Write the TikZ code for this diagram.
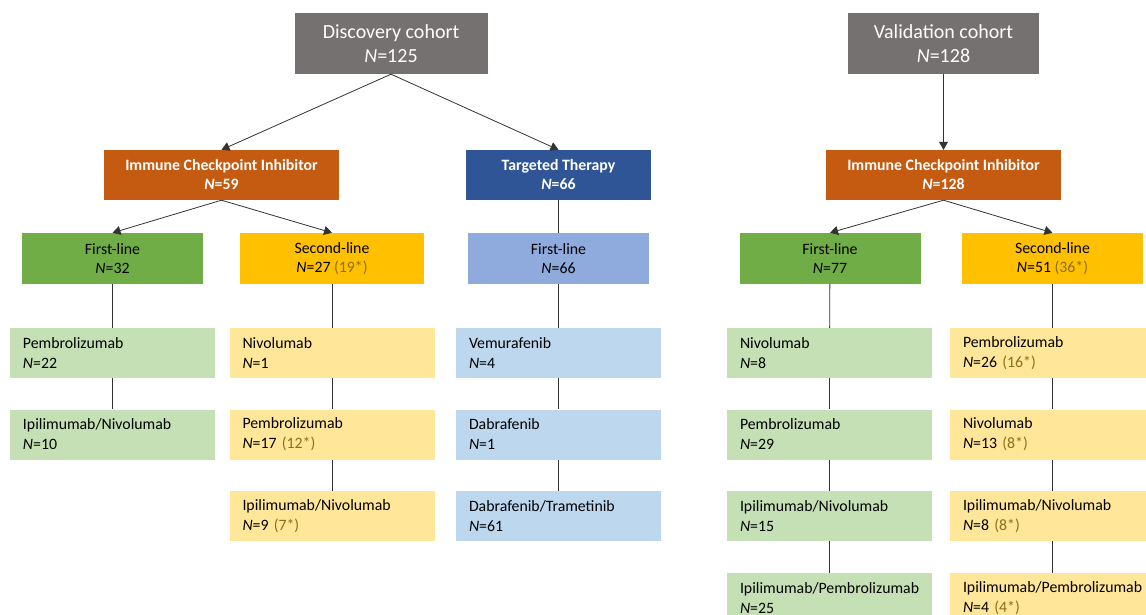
\documentclass[tikz,border=0pt]{standalone}
\usepackage{fontspec}
\setmainfont{Carlito}
\usetikzlibrary{arrows.meta}

\definecolor{cohortgray}{HTML}{757171}
\definecolor{iciorange}{HTML}{C55A11}
\definecolor{ttblue}{HTML}{2F5597}
\definecolor{firstgreen}{HTML}{70AD47}
\definecolor{secondgold}{HTML}{FFC000}
\definecolor{ttlight}{HTML}{8FAADC}
\definecolor{greenpale}{HTML}{C5E0B4}
\definecolor{goldpale}{HTML}{FFE699}
\definecolor{bluepale}{HTML}{BDD7EE}
\definecolor{starbrown}{HTML}{8F6E1A}

\newcommand{\nn}[1]{\textit{N}=#1}
\newcommand{\starred}[1]{{\color{starbrown}(#1*)}}

\begin{document}
\begin{tikzpicture}[x=1pt, y=-1pt,
  cohort/.style={fill=cohortgray, text=white, minimum width=193pt, minimum height=61pt,
    inner sep=0pt, align=center, font=\fontsize{20}{24}\selectfont},
  therapy/.style={fill=#1, text=white, minimum width=235pt, minimum height=50pt,
    inner sep=0pt, align=center, font=\fontsize{15.8}{19}\selectfont\bfseries},
  linebox/.style={fill=#1, minimum width=181pt, minimum height=51pt,
    inner sep=0pt, align=center, font=\fontsize{15.8}{19.5}\selectfont},
  drug/.style={fill=#1, text width=179pt, minimum height=50pt, inner xsep=13pt,
    inner ysep=0pt, align=left, font=\fontsize{15.8}{20}\selectfont},
  conn/.style={draw=black!80, line width=0.8pt},
  arr/.style={conn, -{Triangle[width=9pt, length=8pt]}}]

  \clip (0,0) rectangle (1146,615);

  % cohorts
  \node[cohort] (disc) at (391,43.5) {Discovery cohort\\\nn{125}};
  \node[cohort, minimum width=191pt] (valid) at (943.5,43.5) {Validation cohort\\\nn{128}};

  % treatment
  \node[therapy=iciorange] (iciA) at (221.5,175) {Immune Checkpoint Inhibitor\\\nn{59}};
  \node[therapy=ttblue, minimum width=185pt] (tt) at (558.5,175) {Targeted Therapy\\\nn{66}};
  \node[therapy=iciorange] (iciB) at (943.5,175) {Immune Checkpoint Inhibitor\\\nn{128}};

  % lines
  \node[linebox=firstgreen] (firstA) at (112.5,258.5) {First-line\\\nn{32}};
  \node[linebox=secondgold, minimum width=184pt] (secondA) at (332,258.5) {Second-line\\\nn{27} \starred{19}};
  \node[linebox=ttlight] (firstT) at (558.5,258.5) {First-line\\\nn{66}};
  \node[linebox=firstgreen] (firstB) at (830,258.5) {First-line\\\nn{77}};
  \node[linebox=secondgold] (secondB) at (1052.5,258.5) {Second-line\\\nn{51} \starred{36}};

  % drugs, discovery
  \node[drug=greenpale] (pembA) at (112.5,353) {Pembrolizumab\\\nn{22}};
  \node[drug=greenpale] (ipinivoA) at (112.5,434.5) {Ipilimumab/Nivolumab\\\nn{10}};
  \node[drug=goldpale] (nivoS) at (332,353) {Nivolumab\\\nn{1}};
  \node[drug=goldpale] (pembS) at (332,434.5) {Pembrolizumab\\\nn{17} \starred{12}};
  \node[drug=goldpale] (ipinivoS) at (332,516) {Ipilimumab/Nivolumab\\\nn{9} \starred{7}};
  \node[drug=bluepale] (vemu) at (558.5,353) {Vemurafenib\\\nn{4}};
  \node[drug=bluepale] (dabra) at (558.5,434.5) {Dabrafenib\\\nn{1}};
  \node[drug=bluepale] (dabtram) at (558.5,516) {Dabrafenib/Trametinib\\\nn{61}};

  % drugs, validation
  \node[drug=greenpale] (nivoB) at (829.5,353) {Nivolumab\\\nn{8}};
  \node[drug=greenpale] (pembB) at (829.5,434.5) {Pembrolizumab\\\nn{29}};
  \node[drug=greenpale] (ipinivoB) at (829.5,516) {Ipilimumab/Nivolumab\\\nn{15}};
  \node[drug=greenpale] (ipipembB) at (829.5,598) {Ipilimumab/Pembrolizumab\\\nn{25}};
  \node[drug=goldpale] (pembR) at (1052.5,353) {Pembrolizumab\\\nn{26} \starred{16}};
  \node[drug=goldpale] (nivoR) at (1052.5,434.5) {Nivolumab\\\nn{13} \starred{8}};
  \node[drug=goldpale] (ipinivoR) at (1052.5,516) {Ipilimumab/Nivolumab\\\nn{8} \starred{8}};
  \node[drug=goldpale] (ipipembR) at (1052.5,598) {Ipilimumab/Pembrolizumab\\\nn{4} \starred{4}};

  % arrows
  \draw[arr] (disc.south) -- (iciA.north);
  \draw[arr] (disc.south) -- (tt.north);
  \draw[arr] (valid) -- (iciB);
  \draw[arr] (iciA.south) -- (firstA.north);
  \draw[arr] (iciA.south) -- (secondA.north);
  \draw[arr] (iciB.south) -- (firstB.north);
  \draw[arr] (iciB.south) -- (secondB.north);

  % plain links
  \foreach \a/\b in {tt/firstT, firstA/pembA, pembA/ipinivoA, secondA/nivoS,
      nivoS/pembS, pembS/ipinivoS, firstT/vemu, vemu/dabra, dabra/dabtram,
      firstB/nivoB, nivoB/pembB, pembB/ipinivoB, ipinivoB/ipipembB,
      secondB/pembR, pembR/nivoR, nivoR/ipinivoR, ipinivoR/ipipembR}
    \draw[conn] (\a) -- (\b);
\end{tikzpicture}
\end{document}
